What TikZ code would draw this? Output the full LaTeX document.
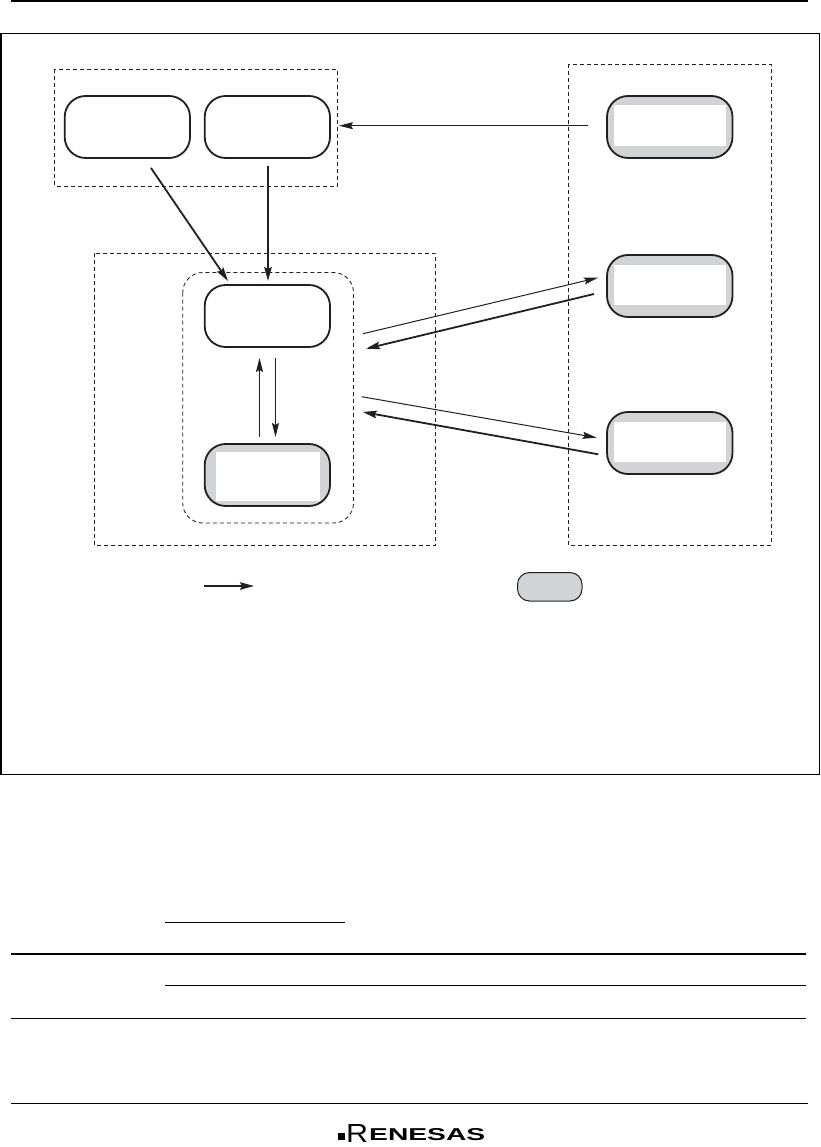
\documentclass[tikz,border=0pt]{standalone}
\usepackage{fontspec}
\setmainfont{Liberation Sans}
\usetikzlibrary{arrows.meta,calc}
\definecolor{shade}{RGB}{209,211,212}
\definecolor{ink}{RGB}{35,31,32}
\tikzset{
  grp/.style={draw=ink,line width=0.85pt,dash pattern=on 4pt off 3pt},
  rbox/.style={draw=ink,line width=1.8pt,rounded corners=21pt},
  sbox/.style={rbox,fill=shade},
  hole/.style={fill=white},
  thinarrow/.style={draw=ink,line width=1pt,-{Stealth[length=14pt,width=7pt,inset=2pt]}},
  thickarrow/.style={draw=ink,line width=1.8pt,-{Stealth[length=14pt,width=7.5pt,inset=2pt]}},
  rule/.style={draw=black,line width=#1},
}
\begin{document}
\begin{tikzpicture}[x=1pt,y=-1pt]
\useasboundingbox (0,0) rectangle (820,1147);
\fill[white] (0,0) rectangle (820,1147);
% page rules
\coordinate (t0) at (11,1.2); \coordinate (t1) at (808,1.2);
\draw[rule=2.5pt] (t0) -- (t1);
% frame
\draw[draw=black,line width=1.3pt] (0.6,33.5) rectangle (819.2,774.5);
\draw[draw=black,line width=2.2pt] (1,33.5) -- (1,774.5);
% groups
\draw[grp] (54,69.5) rectangle (337.5,186);
\draw[grp] (94.5,253.5) rectangle (435.5,545);
\draw[grp] (568.7,64.5) rectangle (771.5,545);
\draw[grp,rounded corners=20pt] (182.7,272.5) rectangle (353.5,523);
% plain boxes
\draw[rbox] (64.7,96) rectangle (190,158);
\draw[rbox] (204.7,96) rectangle (330,158);
\draw[rbox] (204.7,285) rectangle (330,347);
% shaded boxes
\filldraw[sbox] (204.7,444) rectangle (330,506);
\fill[hole] (216,452) rectangle (320,501);
\filldraw[sbox] (607,96) rectangle (732.5,158);
\fill[hole] (614,105) rectangle (725.5,146);
\filldraw[sbox] (607,255) rectangle (732.5,317);
\fill[hole] (614,265) rectangle (725.5,305);
\filldraw[sbox] (607,412) rectangle (732.5,474);
\fill[hole] (614,422) rectangle (725.5,462);
% legend box
\filldraw[draw=ink,line width=1pt,fill=shade,rounded corners=12pt] (517.5,572.5) rectangle (582,601);
% arrows
\coordinate (a1) at (588,125.7); \coordinate (a2) at (339,125.7);
\draw[thinarrow] (a1) -- (a2);
\coordinate (b1) at (151,168); \coordinate (b2) at (228,281);
\draw[thickarrow] (b1) -- (b2);
\coordinate (c1) at (268,166); \coordinate (c2) at (268,281);
\draw[thickarrow] (c1) -- (c2);
\coordinate (d1) at (259.5,437); \coordinate (d2) at (259.5,358);
\draw[thinarrow] (d1) -- (d2);
\coordinate (e1) at (275.5,358); \coordinate (e2) at (275.5,437);
\draw[thinarrow] (e1) -- (e2);
\coordinate (f1) at (363,333.7); \coordinate (f2) at (598,277.7);
\draw[thinarrow] (f1) -- (f2);
\coordinate (g1) at (594,294); \coordinate (g2) at (366,348.7);
\draw[thickarrow] (g1) -- (g2);
\coordinate (h1) at (361.7,396.7); \coordinate (h2) at (596.7,437.7);
\draw[thinarrow] (h1) -- (h2);
\coordinate (i1) at (598.3,454.3); \coordinate (i2) at (362.7,412);
\draw[thickarrow] (i1) -- (i2);
\coordinate (l1) at (204,586); \coordinate (l2) at (254,586);
\draw[thickarrow] (l1) -- (l2);
% lower rules
\draw[rule=1.2pt] (165,922.5) -- (345,922.5);
\draw[rule=2.2pt] (11,953.7) -- (806,953.7);
\draw[rule=1.2pt] (165,985.3) -- (806,985.3);
\draw[rule=1.2pt] (11,1018.3) -- (806,1018.3);
\draw[rule=1.3pt] (11,1103.5) -- (808,1103.5);
% logo
\fill[black] (338,1133) rectangle (345,1140);
\node[inner sep=0pt,anchor=base west] (logoR) at (346,1142.5)
  {\resizebox{22pt}{18pt}{R}};
\node[inner sep=0pt,anchor=base west] (logo) at (369,1140)
  {\resizebox{116pt}{12pt}{\bfseries ENESAS}};
\end{tikzpicture}
\end{document}
